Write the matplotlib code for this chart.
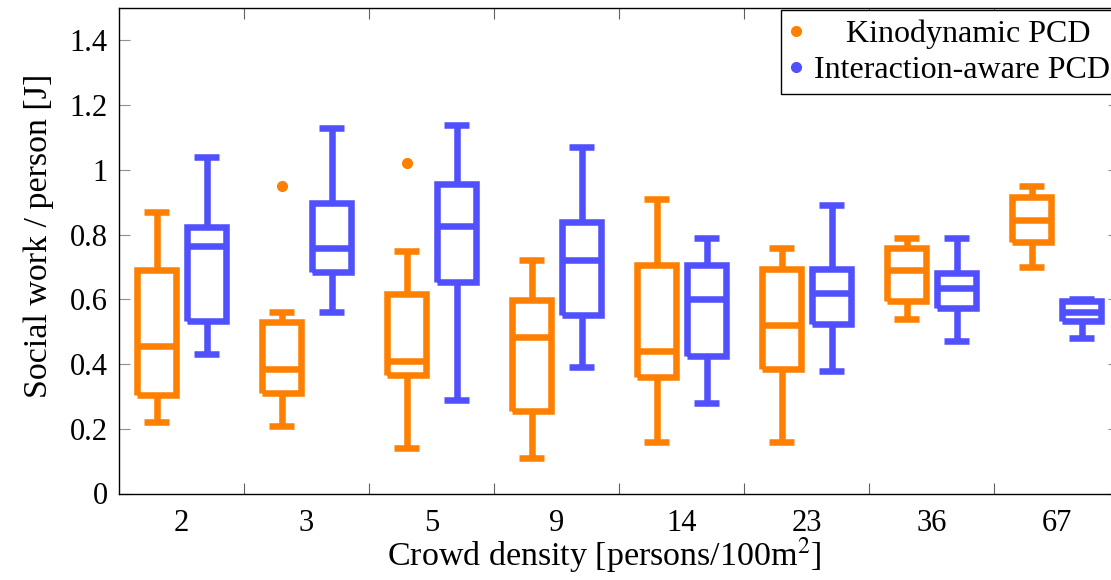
#! /usr/bin/env python3
# boxplot of social work per person vs crowd density

import numpy as np
import matplotlib.pyplot as plt

# input
#
densities = ['2', '3', '5', '9', '14', '23', '36', '67']
series = ['Kinodynamic PCD', 'Interaction-aware PCD']

# per density: lower whisker, q1, median, q3, upper whisker
kino_whislo = [0.22, 0.21, 0.14, 0.11, 0.16, 0.16, 0.54, 0.70]
kino_q1 = [0.305, 0.31, 0.365, 0.255, 0.36, 0.385, 0.595, 0.778]
kino_med = [0.455, 0.385, 0.41, 0.485, 0.44, 0.52, 0.69, 0.845]
kino_q3 = [0.69, 0.53, 0.615, 0.597, 0.706, 0.695, 0.76, 0.917]
kino_whishi = [0.87, 0.56, 0.75, 0.72, 0.91, 0.76, 0.79, 0.95]
kino_fliers = [[], [0.95], [1.02], [], [], [], [], []]

inter_whislo = [0.43, 0.56, 0.29, 0.39, 0.28, 0.38, 0.47, 0.48]
inter_q1 = [0.533, 0.683, 0.652, 0.552, 0.425, 0.524, 0.572, 0.533]
inter_med = [0.765, 0.76, 0.825, 0.72, 0.60, 0.62, 0.634, 0.56]
inter_q3 = [0.822, 0.897, 0.956, 0.84, 0.705, 0.695, 0.682, 0.595]
inter_whishi = [1.04, 1.13, 1.14, 1.07, 0.79, 0.89, 0.79, 0.60]
inter_fliers = [[], [], [], [], [], [], [], []]

plt.rcParams['font.family'] = ['Liberation Serif', 'DejaVu Serif']
plt.rcParams['mathtext.fontset'] = 'stix'

ORANGE = '#FF8000'
BLUE = '#5050FF'
FS = 22

def stats(lo, q1, med, q3, hi, fl):
  return [
    {'whislo': a, 'q1': b, 'med': c, 'q3': d, 'whishi': e, 'fliers': f}
    for a, b, c, d, e, f in zip(lo, q1, med, q3, hi, fl)
  ]

def main():
  fig = plt.figure(figsize=(11.11, 5.8), dpi=100)
  ax = fig.add_axes([119 / 1111, 1 - 493.5 / 580, 1000 / 1111, 485.5 / 580])

  centers = np.arange(len(densities))
  groups = [
    (stats(kino_whislo, kino_q1, kino_med, kino_q3, kino_whishi, kino_fliers), -0.2, ORANGE),
    (stats(inter_whislo, inter_q1, inter_med, inter_q3, inter_whishi, inter_fliers), 0.2, BLUE),
  ]
  for st, off, col in groups:
    line = dict(color=col, linewidth=4.7, solid_capstyle='butt', solid_joinstyle='miter')
    ax.bxp(
      st,
      positions = centers + off,
      widths = 0.31,
      capwidths = 0.2,
      boxprops = line,
      medianprops = line,
      whiskerprops = line,
      capprops = line,
      flierprops = dict(marker='o', markerfacecolor=col, markeredgecolor=col, markersize=7),
      manage_ticks = False,
    )

  # legend
  for name, col in zip(series, [ORANGE, BLUE]):
    ax.plot([], [], 'o', color=col, markersize=7, label=name)
  leg = ax.legend(
    loc = 'upper right',
    bbox_to_anchor = (1.0, 0.995),
    fontsize = 23,
    frameon = True,
    fancybox = False,
    edgecolor = 'black',
    framealpha = 1,
    handlelength = 0.4,
    handletextpad = 0.35,
    labelspacing = 0.22,
    borderpad = 0.28,
    borderaxespad = 0,
  )
  leg.get_frame().set_linewidth(1.0)
  leg.get_texts()[0].set_text('    ' + series[0])

  # axes
  ax.set_xlim(-0.5, len(densities) - 0.5)
  ax.set_ylim(0, 1.5)
  ax.set_xticks(centers)
  ax.set_xticklabels(densities)
  ax.set_xticks(centers[:-1] + 0.5, minor=True)
  ax.set_yticks(np.arange(0, 1.41, 0.2))
  ax.set_yticklabels(['%g' % v for v in np.round(np.arange(0, 1.41, 0.2), 1)])
  ax.tick_params(axis='x', which='major', length=0, pad=11, labelsize=FS)
  ax.tick_params(axis='x', which='minor', direction='in', length=8, width=0.8,
                 color='#606060', top=True, bottom=True)
  ax.tick_params(axis='y', direction='in', length=8, width=0.8, color='#909090',
                 left=True, right=True, pad=8, labelsize=FS)
  for s in ax.spines.values():
    s.set_linewidth(1.0)
  ax.set_xlabel('Crowd density [persons/100m$^2$]', fontsize=24.5, labelpad=-1)
  ax.set_ylabel('Social work / person [J]', fontsize=24.5, labelpad=11)
  ax.xaxis.label.set_x(0.4855)
  ax.yaxis.label.set_y(0.531)

  # output
  #
  plt.savefig('out.png', dpi=100)

if __name__ == '__main__':
  main()
